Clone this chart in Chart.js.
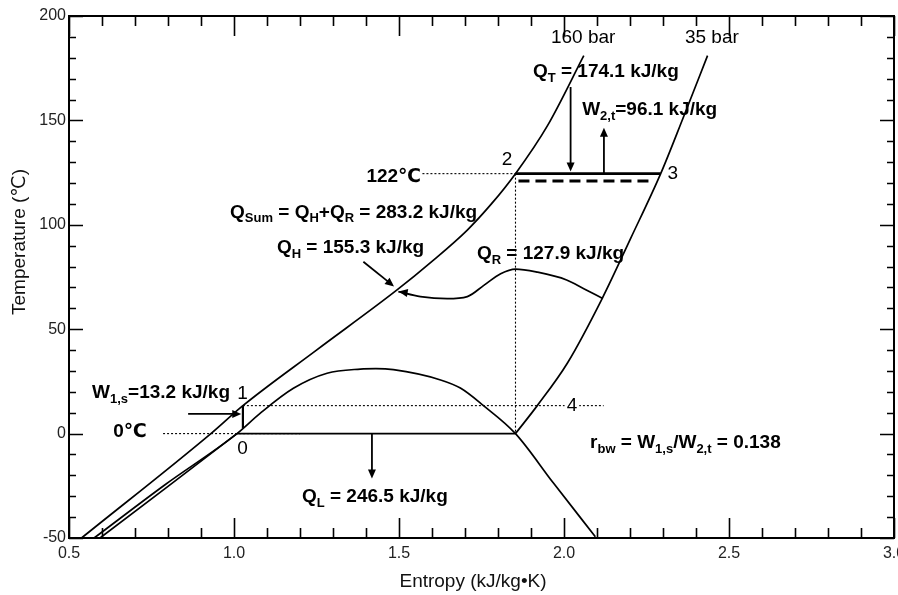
<!DOCTYPE html>
<html>
<head>
<meta charset="utf-8">
<script src="https://cdn.jsdelivr.net/npm/chart.js@4.4.0/dist/chart.umd.min.js"></script>
<style>
  body { margin: 0; background: #fff; }
  canvas { display: block; }
</style>
</head>
<body>
<canvas id="grafico-ts" width="898" height="595"></canvas>
<script>

// Isobara de 160 bar
const s160 = [0.538, 0.93, 1.027, 1.25, 1.494, 1.6, 1.707, 1.78, 1.853, 1.95, 2.06];
const t160 = [-50, 0, 13.4, 40, 68.8, 82.5, 97.5, 110, 124.5, 147.5, 181];

// Isobara de 35 bar: tramo líquido, tramo de cambio de fase y tramo de vapor
const s35liq = [0.594, 0.80, 1.009];
const t35liq = [-50, -25.3, 0];
const s35sat = [1.009, 1.853];
const t35sat = [0, 0];
const s35vap = [1.853, 1.919, 2.01, 2.116, 2.202, 2.293, 2.36, 2.435];
const t35vap = [0, 13.4, 33.7, 64.8, 93.5, 124.5, 150.8, 181];

// Curva de saturación (campana)
const sSat = [0.576, 0.79, 1.009, 1.079, 1.18, 1.282, 1.383, 1.43, 1.483, 1.626, 1.686, 1.756, 1.853, 1.968, 2.095];
const tSat = [-50, -24.6, 0, 9.7, 21.7, 28.9, 30.9, 31.1, 30.6, 25.7, 21.8, 13.4, 0, -23.7, -49.4];

// Curva del calor Q_H + Q_R
const sQ = [1.498, 1.565, 1.646, 1.707, 1.757, 1.808, 1.853, 1.92, 2.008, 2.06, 2.116];
const tQ = [68, 65.6, 64.6, 65.6, 71, 76.6, 78.8, 77.3, 73.6, 69.4, 64.8];

// Estados del ciclo
const sBomba = [1.027, 1.027];
const tBomba = [2.5, 13.4];
const s23 = [1.853, 2.293];
const t23 = [124.5, 124.5];
const s23b = [1.862, 2.272];
const t23b = [121, 121];

// Líneas de referencia punteadas
const s122 = [1.571, 1.853];
const t122 = [124.5, 124.5];
const sVert = [1.853, 1.853];
const tVert = [124.5, 0];
const s4 = [1.027, 2.12];
const t4 = [13.4, 13.4];
const s0 = [0.785, 1.2];
const t0 = [0, 0];

const FUENTE = '"Liberation Sans", Arial, "DejaVu Sans", sans-serif';

function puntos(xs, ys) {
    return xs.map((x, i) => ({ x: x, y: ys[i] }));
}

function serie(xs, ys, extra) {
    return Object.assign({
        data: puntos(xs, ys),
        showLine: true,
        borderColor: '#000',
        borderWidth: 1.7,
        pointRadius: 0,
        fill: false
    }, extra || {});
}

const punteada = { borderWidth: 1.1, borderDash: [2, 2] };

// Flechas (desde -> hasta, en unidades de los ejes)
const flechas = [
    { desde: [0.861, 9.4], hasta: [1.022, 9.4] },
    { desde: [1.392, 82.3], hasta: [1.485, 70.5] },
    { desde: [2.02, 166], hasta: [2.02, 125.5] },
    { desde: [2.121, 124.5], hasta: [2.121, 146.5] },
    { desde: [1.418, 0], hasta: [1.418, -21.5] },
    { desde: [1.53, 67.2], hasta: [1.499, 68], soloPunta: true }
];

// Textos: partes [texto, 'sub'] para subíndices
const etiquetas = [
    { s: 2.058, t: 189.5, al: 'center', negrita: false, partes: [['160 bar']] },
    { s: 2.448, t: 189.5, al: 'center', negrita: false, partes: [['35 bar']] },
    { s: 1.906, t: 173.2, al: 'left', negrita: true, partes: [['Q'], ['T', 'sub'], [' = 174.1 kJ/kg']] },
    { s: 2.055, t: 155, al: 'left', negrita: true, partes: [['W'], ['2,t', 'sub'], ['=96.1 kJ/kg']] },
    { s: 1.827, t: 131, al: 'center', negrita: false, partes: [['2']] },
    { s: 2.33, t: 124.3, al: 'center', negrita: false, partes: [['3']] },
    { s: 1.567, t: 122.9, al: 'right', negrita: true, partes: [['122℃']] },
    { s: 0.988, t: 105.7, al: 'left', negrita: true, partes: [['Q'], ['Sum', 'sub'], [' = Q'], ['H', 'sub'], ['+Q'], ['R', 'sub'], [' = 283.2 kJ/kg']] },
    { s: 1.13, t: 88.9, al: 'left', negrita: true, partes: [['Q'], ['H', 'sub'], [' = 155.3 kJ/kg']] },
    { s: 1.736, t: 86, al: 'left', negrita: true, partes: [['Q'], ['R', 'sub'], [' = 127.9 kJ/kg']] },
    { s: 0.57, t: 19.4, al: 'left', negrita: true, partes: [['W'], ['1,s', 'sub'], ['=13.2 kJ/kg']] },
    { s: 1.026, t: 19.3, al: 'center', negrita: false, partes: [['1']] },
    { s: 0.685, t: 0.8, al: 'center', negrita: true, partes: [['0℃']] },
    { s: 1.026, t: -7.4, al: 'center', negrita: false, partes: [['0']] },
    { s: 2.024, t: 13.2, al: 'center', negrita: false, partes: [['4']], fondo: true },
    { s: 1.206, t: -30.4, al: 'left', negrita: true, partes: [['Q'], ['L', 'sub'], [' = 246.5 kJ/kg']] },
    { s: 2.079, t: -4.5, al: 'left', negrita: true, partes: [['r'], ['bw', 'sub'], [' = W'], ['1,s', 'sub'], ['/W'], ['2,t', 'sub'], [' = 0.138']] }
];

// Marco con marcas hacia dentro en los cuatro lados
const marco = {
    id: 'marco',
    afterDraw(chart) {
        const { ctx, chartArea: a, scales: { x, y } } = chart;
        ctx.save();
        ctx.strokeStyle = '#000';
        ctx.lineWidth = 2;
        ctx.strokeRect(a.left, a.top, a.right - a.left, a.bottom - a.top);
        ctx.lineWidth = 1.6;
        ctx.beginPath();
        for (let i = 0; i <= 25; i++) {
            const px = Math.round(x.getPixelForValue(0.5 + i * 0.1)) + 0.5;
            const largo = i % 5 === 0 ? 20 : 10;
            ctx.moveTo(px, a.bottom); ctx.lineTo(px, a.bottom - largo);
            ctx.moveTo(px, a.top); ctx.lineTo(px, a.top + largo);
        }
        for (let i = 0; i <= 25; i++) {
            const py = Math.round(y.getPixelForValue(-50 + i * 10)) + 0.5;
            const largo = i % 5 === 0 ? 14 : 7;
            ctx.moveTo(a.left, py); ctx.lineTo(a.left + largo, py);
            ctx.moveTo(a.right, py); ctx.lineTo(a.right - largo, py);
        }
        ctx.stroke();

        // Títulos de los ejes
        ctx.fillStyle = '#111';
        ctx.font = '19px ' + FUENTE;
        ctx.textAlign = 'center';
        ctx.textBaseline = 'middle';
        ctx.fillText('Entropy (kJ/kg•K)', 473, 582);
        ctx.translate(20, 242);
        ctx.rotate(-Math.PI / 2);
        ctx.fillText('Temperature (℃)', 0, 0);
        ctx.restore();
    }
};

function anchoPartes(ctx, partes, tam, peso) {
    let w = 0;
    partes.forEach(p => {
        ctx.font = peso + ' ' + (p[1] === 'sub' ? Math.round(tam * 0.66) : tam) + 'px ' + FUENTE;
        w += ctx.measureText(p[0]).width;
    });
    return w;
}

const anotaciones = {
    id: 'anotaciones',
    afterDatasetsDraw(chart) {
        const { ctx, scales: { x, y } } = chart;
        ctx.save();
        ctx.fillStyle = '#000';
        ctx.strokeStyle = '#000';

        // Flechas
        flechas.forEach(f => {
            const x0 = x.getPixelForValue(f.desde[0]), y0 = y.getPixelForValue(f.desde[1]);
            const x1 = x.getPixelForValue(f.hasta[0]), y1 = y.getPixelForValue(f.hasta[1]);
            const ang = Math.atan2(y1 - y0, x1 - x0);
            const L = 9, W = 4;
            if (!f.soloPunta) {
                ctx.lineWidth = 1.8;
                ctx.beginPath();
                ctx.moveTo(x0, y0);
                ctx.lineTo(x1 - Math.cos(ang) * L * 0.8, y1 - Math.sin(ang) * L * 0.8);
                ctx.stroke();
            }
            ctx.beginPath();
            ctx.moveTo(x1, y1);
            ctx.lineTo(x1 - Math.cos(ang) * L + Math.sin(ang) * W, y1 - Math.sin(ang) * L - Math.cos(ang) * W);
            ctx.lineTo(x1 - Math.cos(ang) * L - Math.sin(ang) * W, y1 - Math.sin(ang) * L + Math.cos(ang) * W);
            ctx.closePath();
            ctx.fill();
        });

        // Textos
        const tam = 19;
        ctx.textBaseline = 'middle';
        ctx.textAlign = 'left';
        etiquetas.forEach(e => {
            const peso = e.negrita ? 'bold' : 'normal';
            const w = anchoPartes(ctx, e.partes, tam, peso);
            let px = x.getPixelForValue(e.s);
            const py = y.getPixelForValue(e.t);
            if (e.al === 'center') px -= w / 2;
            if (e.al === 'right') px -= w;
            if (e.fondo) {
                ctx.fillStyle = '#fff';
                ctx.fillRect(px - 2, py - 8, w + 4, 16);
                ctx.fillStyle = '#000';
            }
            e.partes.forEach(p => {
                const sub = p[1] === 'sub';
                ctx.font = peso + ' ' + (sub ? Math.round(tam * 0.66) : tam) + 'px ' + FUENTE;
                ctx.fillText(p[0], px, sub ? py + 6 : py);
                px += ctx.measureText(p[0]).width;
            });
        });
        ctx.restore();
    }
};

const ctxTS = document.getElementById('grafico-ts');
new Chart(ctxTS, {
    type: 'scatter',
    data: {
        datasets: [
            serie(s160, t160, { cubicInterpolationMode: 'monotone' }),
            serie(s35liq, t35liq),
            serie(s35sat, t35sat),
            serie(s35vap, t35vap, { cubicInterpolationMode: 'monotone' }),
            serie(sSat, tSat, { cubicInterpolationMode: 'monotone' }),
            serie(sQ, tQ, { cubicInterpolationMode: 'monotone' }),
            serie(sBomba, tBomba, { borderWidth: 2.2 }),
            serie(s23, t23, { borderWidth: 2.6 }),
            serie(s23b, t23b, { borderWidth: 3, borderDash: [11, 6] }),
            serie(s122, t122, punteada),
            serie(sVert, tVert, punteada),
            serie(s4, t4, punteada),
            serie(s0, t0, punteada)
        ]
    },
    options: {
        responsive: false,
        animation: false,
        devicePixelRatio: 1,
        layout: { padding: { top: 16, right: 4, left: 0, bottom: 0 } },
        plugins: {
            legend: { display: false },
            tooltip: { enabled: false }
        },
        scales: {
            x: {
                type: 'linear',
                min: 0.5,
                max: 3.0,
                grid: { display: false, drawTicks: false },
                border: { display: false },
                ticks: {
                    stepSize: 0.5,
                    padding: 6,
                    maxRotation: 0,
                    autoSkip: false,
                    color: '#222',
                    font: { family: FUENTE, size: 16 },
                    callback: v => v.toFixed(1)
                },
                afterFit: s => { s.height = 57; s.paddingLeft = 0; s.paddingRight = 0; }
            },
            y: {
                type: 'linear',
                min: -50,
                max: 200,
                grid: { display: false, drawTicks: false },
                border: { display: false },
                ticks: {
                    stepSize: 50,
                    padding: 3,
                    color: '#222',
                    font: { family: FUENTE, size: 16 }
                },
                afterFit: s => { s.width = 69; s.paddingTop = 0; s.paddingBottom = 0; }
            }
        }
    },
    plugins: [marco, anotaciones]
});
</script>
</body>
</html>
